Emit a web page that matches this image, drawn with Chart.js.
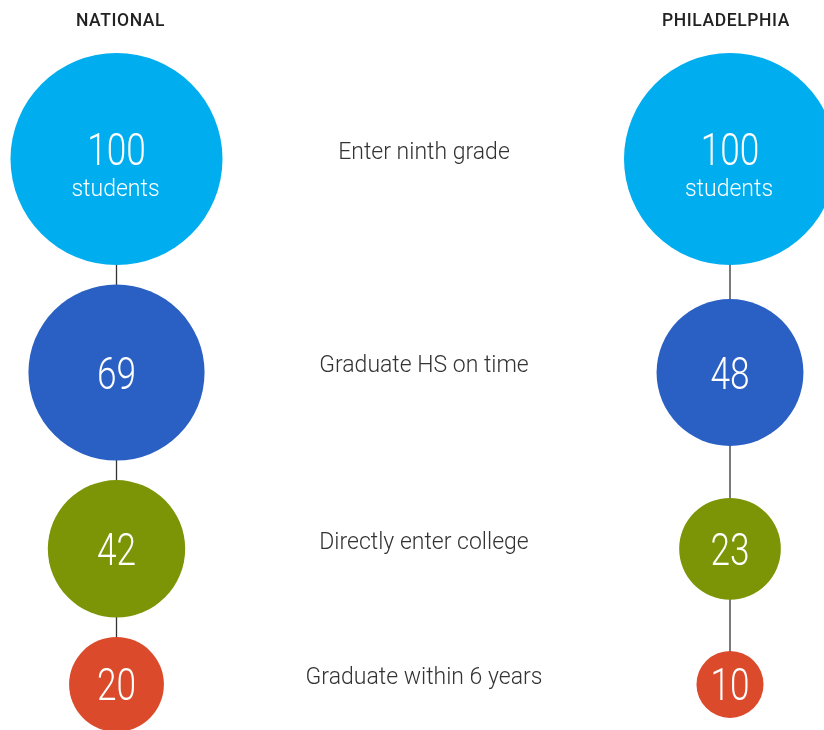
<!DOCTYPE html>
<html>
<head>
<meta charset="utf-8">
<script src="https://cdn.jsdelivr.net/npm/chart.js@4"></script>
<style>
  html, body { margin: 0; padding: 0; background: #ffffff; }
  #wrap { width: 824px; height: 730px; }
</style>
</head>
<body>
<div id="wrap"><canvas id="c" width="824" height="730"></canvas></div>
<script>
// ---- data ----
const groups = ['NATIONAL', 'PHILADELPHIA'];
const stages = ['Enter ninth grade', 'Graduate HS on time', 'Directly enter college', 'Graduate within 6 years'];
const national = [100, 69, 42, 20];
const philadelphia = [100, 48, 23, 10];
const firstUnit = 'students';

// ---- layout / style ----
const stageColors = ['#00AEEF', '#2A60C3', '#7B9506', '#DB4A2A'];
const colX = [116.5, 730];
const labelX = 424;
const kR = 10.6;          // radius = kR * sqrt(value) -> area proportional
const firstY = 159;
const gapY = 19.5;

const radius = v => kR * Math.sqrt(v);
// stage centre positions stacked from national bubble sizes
const stageY = [];
national.forEach((v, i) => {
  if (i === 0) stageY.push(firstY);
  else stageY.push(stageY[i - 1] + radius(national[i - 1]) + radius(v) + gapY);
});

const series = [national, philadelphia];

const bubbleSets = series.map((vals, g) => ({
  type: 'bubble',
  label: groups[g],
  data: vals.map((v, i) => ({ x: colX[g], y: stageY[i], r: radius(v), v: v })),
  backgroundColor: stageColors,
  borderWidth: 0,
  hoverRadius: 0,
  clip: false,
  order: 1
}));
const lineSets = series.map((vals, g) => ({
  type: 'line',
  label: groups[g] + ' line',
  data: vals.map((v, i) => ({ x: colX[g], y: stageY[i] })),
  borderColor: '#333333',
  borderWidth: 1.3,
  pointRadius: 0,
  fill: false,
  clip: false,
  order: 2
}));

function drawText(ctx, text, x, y, font, color, sx, spacing) {
  ctx.save();
  ctx.font = font;
  ctx.fillStyle = color;
  ctx.textAlign = 'center';
  ctx.textBaseline = 'middle';
  if (spacing) ctx.letterSpacing = spacing;
  ctx.translate(x, y);
  ctx.scale(sx || 1, 1);
  ctx.fillText(text, 0, 0);
  ctx.restore();
}

const textPlugin = {
  id: 'texts',
  afterDatasetsDraw(chart) {
    const ctx = chart.ctx;
    const xs = chart.scales.x, ys = chart.scales.y;
    // headers
    groups.forEach((g, gi) => {
      drawText(ctx, g, xs.getPixelForValue(colX[gi]) + (gi === 0 ? 4 : -4), 22,
        '500 17.5px Roboto, "DejaVu Sans", sans-serif', '#222222', 1, '0.6px');
    });
    // stage labels
    stages.forEach((s, i) => {
      drawText(ctx, s, xs.getPixelForValue(labelX), ys.getPixelForValue(stageY[i]) - 6,
        '300 23px Roboto, "DejaVu Sans", sans-serif', '#333333', 1);
    });
    // bubble values
    series.forEach((vals, gi) => {
      vals.forEach((v, i) => {
        const px = xs.getPixelForValue(colX[gi]);
        const py = ys.getPixelForValue(stageY[i]);
        if (i === 0) {
          drawText(ctx, String(v), px, py - 5, '300 44px Roboto, sans-serif', '#ffffff', 0.8);
          drawText(ctx, firstUnit, px - 1, py + 31, '300 23px Roboto, sans-serif', '#ffffff', 1);
        } else {
          drawText(ctx, String(v), px, py + 5, '300 44px Roboto, sans-serif', '#ffffff', 0.8);
        }
      });
    });
  }
};

new Chart(document.getElementById('c'), {
  type: 'bubble',
  data: { datasets: [...bubbleSets, ...lineSets] },
  options: {
    responsive: false,
    animation: false,
    events: [],
    layout: { padding: 0, autoPadding: false },
    plugins: { legend: { display: false }, tooltip: { enabled: false } },
    scales: {
      x: { type: 'linear', min: 0, max: 824, display: false },
      y: { type: 'linear', min: 0, max: 730, reverse: true, display: false }
    }
  },
  plugins: [textPlugin]
});
</script>
</body>
</html>
